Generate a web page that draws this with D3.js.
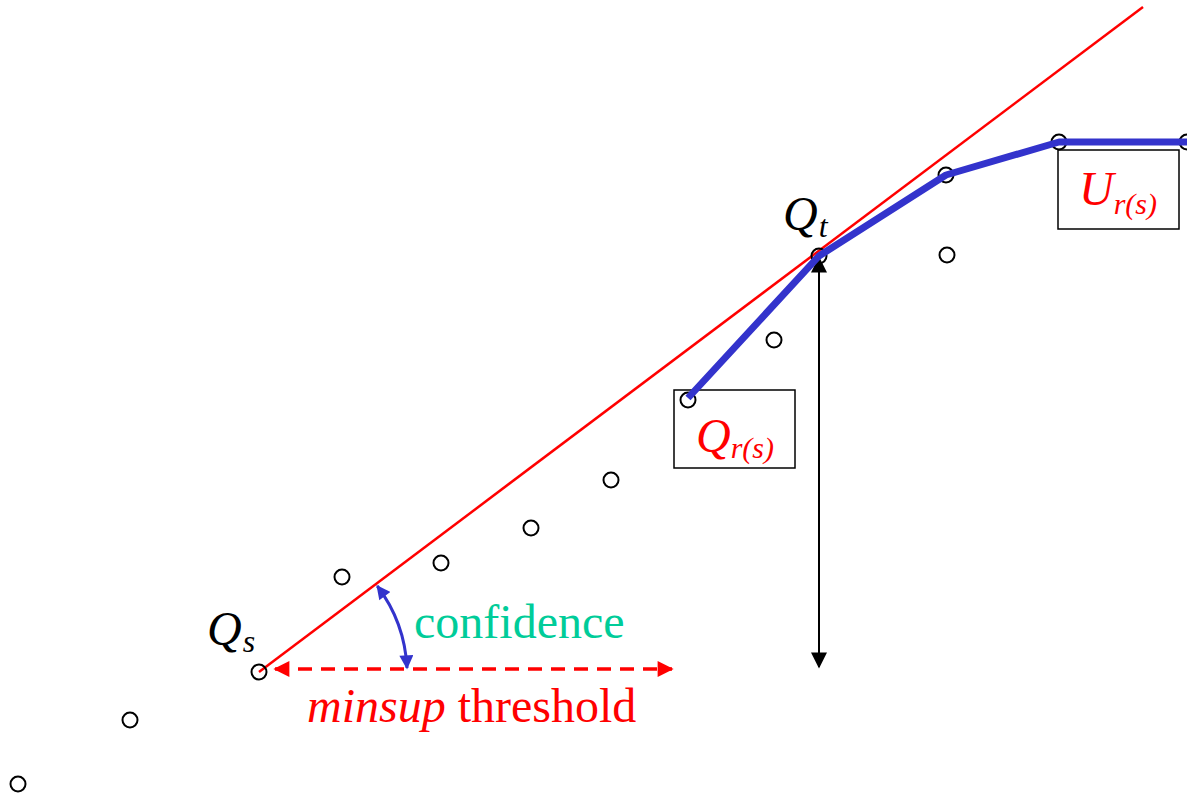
<!DOCTYPE html>
<html>
<head>
<meta charset="utf-8">
<script src="https://cdn.jsdelivr.net/npm/d3@7"></script>
<style>
  body { margin: 0; background: #fff; }
  svg { display: block; }
</style>
</head>
<body>
<div id="chart"></div>
<script>
// itemset points (x = position, y = support level)
const pointX = [18, 130, 259, 342, 441, 531, 611, 688, 774, 819, 946, 947, 1059, 1187];
const pointY = [11, 75, 123, 218, 232, 267, 315, 395, 455, 539, 620, 540, 653, 653];

// blue upper path: Qr(s) -> Qt -> ... -> Ur(s)
const pathX = [688, 819, 946, 1059, 1187];
const pathY = [397, 539, 620, 653, 653];

// confidence line from Qs
const lineX = [259, 1143];
const lineY = [123, 788];

// minsup threshold arrow, vertical support arrow
const minsupX = [275, 672];
const minsupY = 126;
const supportX = 819;
const supportY = [537, 128];

const width = 1187, height = 795;

const svg = d3.select("#chart")
    .append("svg")
    .attr("width", width)
    .attr("height", height);

const x = d3.scaleLinear().domain([0, width]).range([0, width]);
const y = d3.scaleLinear().domain([0, height]).range([height, 0]);

const serif = "'Liberation Serif', 'Times New Roman', serif";

// arrow markers
const defs = svg.append("defs");
function marker(id, color, w, h) {
    defs.append("marker")
        .attr("id", id)
        .attr("viewBox", "0 0 10 10")
        .attr("refX", 9).attr("refY", 5)
        .attr("markerUnits", "userSpaceOnUse")
        .attr("markerWidth", w).attr("markerHeight", h)
        .attr("orient", "auto-start-reverse")
        .append("path")
        .attr("d", "M0,0 L10,5 L0,10 Z")
        .attr("fill", color);
}
marker("arrRed", "#ff0000", 18, 16);
marker("arrBlack", "#000", 17, 16);
marker("arrBlue", "#3333cc", 15, 14);

// vertical support arrow
svg.append("line")
    .attr("x1", x(supportX)).attr("x2", x(supportX))
    .attr("y1", y(supportY[0])).attr("y2", y(supportY[1]))
    .attr("stroke", "#000").attr("stroke-width", 2)
    .attr("marker-start", "url(#arrBlack)")
    .attr("marker-end", "url(#arrBlack)");

// red confidence line
svg.append("line")
    .attr("x1", x(lineX[0])).attr("y1", y(lineY[0]))
    .attr("x2", x(lineX[1])).attr("y2", y(lineY[1]))
    .attr("stroke", "#ff0000").attr("stroke-width", 2.5);

// minsup dashed arrow
svg.append("line")
    .attr("x1", x(minsupX[0])).attr("x2", x(minsupX[1]))
    .attr("y1", y(minsupY)).attr("y2", y(minsupY))
    .attr("stroke", "#ff0000").attr("stroke-width", 3.5)
    .attr("stroke-dasharray", "14,9")
    .attr("marker-start", "url(#arrRed)")
    .attr("marker-end", "url(#arrRed)");

// confidence angle arc centred on Qs
const cx = x(lineX[0]), cy = y(lineY[0]);
const r = 148;
const ang = Math.atan2(y(lineY[0]) - y(lineY[1]), x(lineX[1]) - x(lineX[0]));
const ax = cx + r * Math.cos(ang), ay = cy - r * Math.sin(ang) + 3;
const bx = cx + r, by = cy - 4;
svg.append("path")
    .attr("d", `M${ax},${ay} A${r},${r} 0 0 1 ${bx},${by}`)
    .attr("fill", "none")
    .attr("stroke", "#3333cc").attr("stroke-width", 3)
    .attr("marker-start", "url(#arrBlue)")
    .attr("marker-end", "url(#arrBlue)");

// boxes around Qr(s) and Ur(s)
const boxes = [
    {x0: 674, y0: 405, x1: 795, y1: 327},
    {x0: 1058, y0: 645, x1: 1179, y1: 566}
];
svg.selectAll(".box")
    .data(boxes)
    .enter()
    .append("rect")
    .attr("class", "box")
    .attr("x", d => x(d.x0))
    .attr("y", d => y(d.y0))
    .attr("width", d => x(d.x1) - x(d.x0))
    .attr("height", d => y(d.y1) - y(d.y0))
    .attr("fill", "none")
    .attr("stroke", "#000").attr("stroke-width", 1.5);

// points
const pts = pointX.map((v, i) => ({x: v, y: pointY[i]}));
svg.selectAll(".pt")
    .data(pts)
    .enter()
    .append("circle")
    .attr("class", "pt")
    .attr("cx", d => x(d.x))
    .attr("cy", d => y(d.y))
    .attr("r", 7.5)
    .attr("fill", "none")
    .attr("stroke", "#000").attr("stroke-width", 2);

// blue path
const path = pathX.map((v, i) => [x(v), y(pathY[i])]);
svg.append("path")
    .attr("d", d3.line()(path))
    .attr("fill", "none")
    .attr("stroke", "#3333cc")
    .attr("stroke-width", 7)
    .attr("stroke-linejoin", "round");

// labels
function qlabel(px, py, main, sub, color, subDx, subDy, subSize) {
    const t = svg.append("text")
        .attr("x", px).attr("y", py)
        .attr("font-family", serif)
        .attr("font-style", "italic")
        .attr("font-size", "48px")
        .attr("fill", color);
    t.append("tspan").text(main);
    t.append("tspan")
        .attr("dx", subDx).attr("dy", subDy)
        .attr("font-size", subSize)
        .text(sub);
}
qlabel(207, 645, "Q", "s", "#000", 1, 7, "32px");
qlabel(783, 230, "Q", "t", "#000", 1, 7, "32px");
qlabel(696, 452, "Q", "r(s)", "#ff0000", 0, 6, "30px");
qlabel(1079, 205, "U", "r(s)", "#ff0000", 0, 9, "30px");

svg.append("text")
    .attr("x", 414).attr("y", 638)
    .attr("font-family", serif)
    .attr("font-size", "48px")
    .attr("fill", "#00cc99")
    .text("confidence");

const ms = svg.append("text")
    .attr("x", 307).attr("y", 722)
    .attr("font-family", serif)
    .attr("font-size", "48px")
    .attr("fill", "#ff0000");
ms.append("tspan").attr("font-style", "italic").text("minsup");
ms.append("tspan").text(" threshold");
</script>
</body>
</html>
